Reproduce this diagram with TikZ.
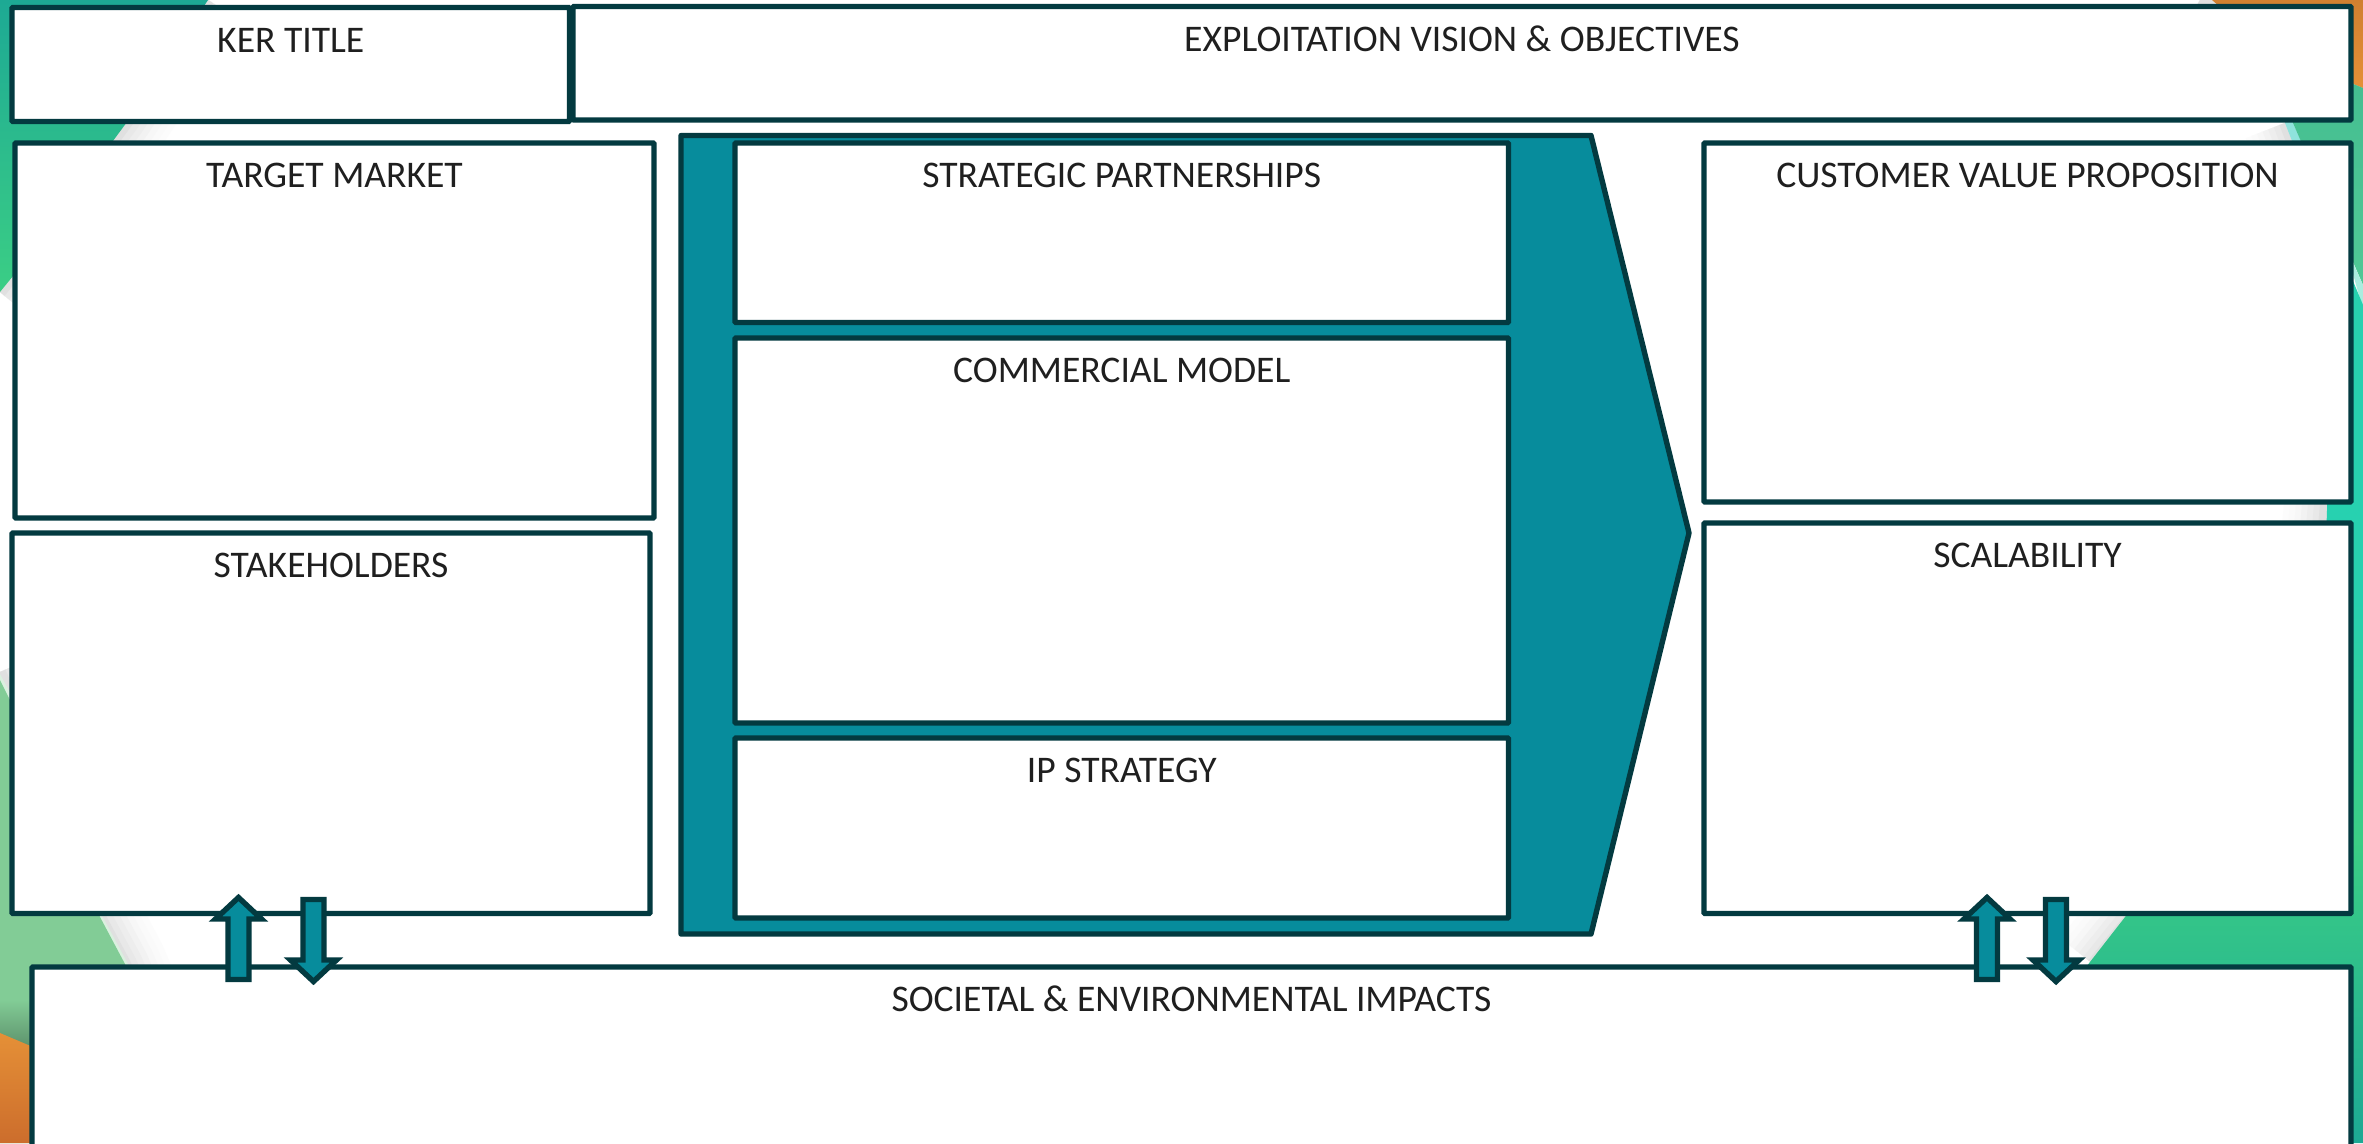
\documentclass[tikz,border=0pt]{standalone}
\usepackage{fontspec}
\setmainfont{Carlito}
\definecolor{edge}{HTML}{033A40}
\definecolor{tealfill}{HTML}{078C9C}
\definecolor{inktext}{HTML}{1F1F1F}
\definecolor{gtop}{HTML}{1DA994}
\definecolor{gmiddle}{HTML}{33C588}
\definecolor{gmid}{HTML}{3BCE85}
\definecolor{lgreen}{HTML}{82CC96}
\definecolor{orangeA}{HTML}{E59037}
\definecolor{orangeB}{HTML}{CC6D2C}
\definecolor{orangeC}{HTML}{D08030}
\definecolor{rteal}{HTML}{27D1B0}
\definecolor{rgreen}{HTML}{50C896}
\definecolor{rgreenB}{HTML}{43BD90}
\definecolor{stripe}{HTML}{8FE3DC}
\tikzset{
  panel/.style={draw=edge,fill=white,line width=5.4pt,rounded corners=1pt,inner sep=0pt},
  headtext/.style={anchor=base,text=inktext,font=\fontsize{37.6}{38}\selectfont,inner sep=0pt},
  blockarrow/.style={draw=edge,fill=tealfill,line width=5.4pt,line join=miter,miter limit=6},
  softedge/.style={line cap=butt,line join=round}
}
\newcommand{\softline}[1]{%
  \foreach \w/\g in {84/1,72/2,60/3,48/5,36/7,24/9,12/12}{\draw[softedge,line width=\w pt,black!\g!white] #1;}%
}
\newcommand{\panelbox}[6]{% name, x1,y1,x2,y2, title
  \node[panel,minimum width={#4-#2},minimum height={#5-#3}] (#1) at ({(#2+#4)/2},{(#3+#5)/2}) {};
  \node[headtext] (#1t) at ([yshift=-47.5pt]#1.north) {#6};
}
\begin{document}
\begin{tikzpicture}[x=1pt,y=-1pt]
\useasboundingbox (0,0) rectangle (2363,1143);
\begin{scope}
\clip (0,0) rectangle (2363,1143);
\fill[white] (0,0) rectangle (2363,1143);
% soft shadows
\softline{(208,0) -- (127,122) -- (13,276) -- (0,292)}
\softline{(0,672) -- (13,703) -- (100,917) -- (125,964) -- (140,1000)}
\softline{(2185,850) -- (2093,964)}
\softline{(2200,0) -- (2363,88)}
\softline{(2285,123) -- (2292,141)}
\softline{(2328,480) -- (2323,540)}
% top left
\shade[top color=gtop,middle color=gmiddle,bottom color=gmid] (0,0) -- (208,0) -- (127,122) -- (13,276) -- (0,292) -- cycle;
% lower left
\fill[white!70!lgreen] (-5,665) -- (13,698) -- (100,912) -- (128,964) -- (140,1000) -- (140,1143) -- (-5,1143) -- cycle;
\fill[lgreen] (0,680) -- (13,706) -- (100,917) -- (125,964) -- (140,1000) -- (140,1143) -- (0,1143) -- cycle;
\shade[top color=lgreen,bottom color=lgreen!70!black] (0,1000) rectangle (40,1050);
\shade[top color=orangeA,bottom color=orangeB] (0,1033) -- (40,1050) -- (40,1143) -- (0,1143) -- cycle;
% top right
\shade[top color=orangeC,bottom color=orangeA] (2212,0) -- (2363,0) -- (2363,88) -- (2270,50) -- cycle;
\fill[stripe] (2270,50) -- (2285,123) -- (2292,141) -- (2301,141) -- (2293,123) -- cycle;
\shade[top color=rgreenB,bottom color=rgreen] (2270,50) -- (2363,88) -- (2363,285) -- (2293,123) -- cycle;
% right teal
\fill[white!60!rteal] (2345,245) -- (2363,285) -- (2363,310) -- cycle;
\fill[rteal] (2345,262) -- (2363,305) -- (2363,600) -- (2324,600) -- (2328,480) -- cycle;
% lower right
\shade[top color=rteal,bottom color=gmid] (2320,600) rectangle (2363,840);
\shade[top color=gmid,bottom color=gtop] (2185,840) -- (2363,840) -- (2363,1143) -- (1949,1143) -- cycle;
\end{scope}
% panels
\panelbox{ker}{12}{7.5}{569.5}{121.5}{KER TITLE}
\panelbox{vision}{573}{6.5}{2351}{120}{EXPLOITATION VISION \& OBJECTIVES}
\panelbox{market}{15}{143}{654}{518}{TARGET MARKET}
\panelbox{stake}{12}{533}{650}{913.5}{STAKEHOLDERS}
\draw[draw=edge,fill=tealfill,line width=5.4pt,line join=round] (681,135.5) -- (1591,135.5) -- (1689,533) -- (1591,934) -- (681,934) -- cycle;
\panelbox{partners}{735}{143}{1508.5}{322.5}{STRATEGIC PARTNERSHIPS}
\panelbox{commercial}{735}{338}{1508.5}{723}{COMMERCIAL MODEL}
\panelbox{ip}{735}{738}{1508.5}{918}{IP STRATEGY}
\panelbox{value}{1704}{143}{2351}{502}{CUSTOMER VALUE PROPOSITION}
\panelbox{scale}{1704}{523}{2351}{913.5}{SCALABILITY}
\panelbox{impact}{32}{967}{2351}{1200}{SOCIETAL \& ENVIRONMENTAL IMPACTS}
% block arrows
\foreach \c in {238.5,1987}{
  \draw[blockarrow] (\c,897.5) -- (\c+23,919) -- (\c+10.5,919) -- (\c+10.5,979.5) -- (\c-10.5,979.5) -- (\c-10.5,919) -- (\c-23,919) -- cycle;
}
\foreach \c in {313.5,2056}{
  \draw[blockarrow] (\c-10.5,899.5) -- (\c+10.5,899.5) -- (\c+10.5,960) -- (\c+23,960) -- (\c,981.5) -- (\c-23,960) -- (\c-10.5,960) -- cycle;
}
\end{tikzpicture}
\end{document}
